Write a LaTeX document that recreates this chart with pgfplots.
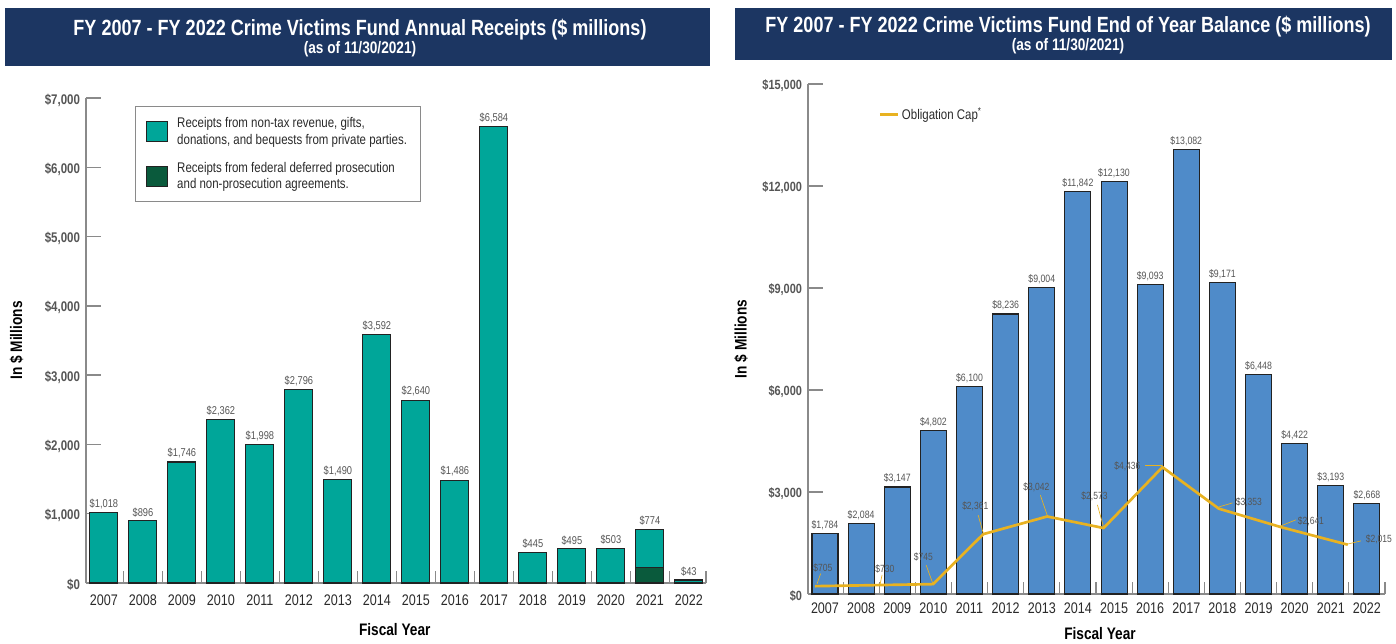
\documentclass[border=0pt]{standalone}
\usepackage{fontspec}
\setmainfont{Liberation Sans}[FakeStretch=0.82]
\usepackage{pgfplots}
\pgfplotsset{compat=1.18}
\definecolor{navy}{HTML}{1C3662}
\definecolor{tealbar}{HTML}{00A699}
\definecolor{darkgreenbar}{HTML}{0A5A3C}
\definecolor{bluebar}{HTML}{4F8BC9}
\definecolor{capyellow}{HTML}{E8B221}
\definecolor{bardark}{HTML}{222222}
\definecolor{axisgray}{HTML}{8A8A8A}
\definecolor{labelgray}{HTML}{555555}
\definecolor{tickgray}{HTML}{2A2A2A}
\pgfkeys{/pgf/number format/.cd, fixed, precision=0, 1000 sep={,}, assume math mode=true}
\pgfplotsset{
  common/.style={
    scale only axis,
    axis x line*=bottom, axis y line*=left,
    axis line style={-, draw=axisgray, line width=1pt},
    tick align=inside,
    major tick length=11pt,
    minor tick length=9pt,
    every major x tick/.style={draw=none},
    every minor x tick/.style={draw=axisgray, line width=0.8pt},
    every major y tick/.style={draw=axisgray, line width=1pt},
    scaled y ticks=false,
    xtick={0,...,15},
    xticklabels={2007,2008,2009,2010,2011,2012,2013,2014,2015,2016,2017,2018,2019,2020,2021,2022},
    minor xtick={0.5,1.5,...,14.5,15.44},
    yticklabel={\$\pgfmathprintnumber{\tick}},
    yticklabel style={font=\bfseries\fontsize{10.5}{12}\selectfont, text=labelgray, xshift=-1pt, yshift=-1.5pt},
    xticklabel style={font=\fontsize{11.5}{13}\selectfont, text=tickgray, yshift=-5pt},
    every axis y label/.style={rotate=90, anchor=center, font=\bfseries\fontsize{12.5}{14}\selectfont, text=black},
    every axis x label/.style={anchor=center, font=\bfseries\fontsize{12.5}{14}\selectfont, text=black},
    clip=false,
  }
}
\begin{document}
\begin{tikzpicture}
\path[use as bounding box] (0,0) rectangle (1047pt,482.25pt);
% banners
\fill[navy] (3.75pt,432.75pt) rectangle (532.5pt,476.25pt);
\node[white,font=\bfseries\fontsize{16.5}{18}\selectfont] at (270pt,460pt) {FY 2007 - FY 2022 Crime Victims Fund Annual Receipts (\$ millions)};
\node[white,font=\bfseries\fontsize{12.5}{14}\selectfont] at (270pt,445pt) {(as of 11/30/2021)};
\fill[navy] (551.25pt,437.25pt) rectangle (1044pt,476.25pt);
\node[white,font=\bfseries\fontsize{16.5}{18}\selectfont] at (801pt,462.25pt) {FY 2007 - FY 2022 Crime Victims Fund End of Year Balance (\$ millions)};
\node[white,font=\bfseries\fontsize{12.5}{14}\selectfont] at (801pt,447.5pt) {(as of 11/30/2021)};

% ---------------- left axis
\begin{axis}[common,
  at={(64.5pt,45pt)}, anchor=south west,
  width=465pt, height=363.75pt,
  xmin=-0.46, xmax=15.44, ymin=0, ymax=7000,
  ytick={0,1000,...,7000},
  ylabel={In \$ Millions}, xlabel={Fiscal Year},
  ylabel style={at={(axis description cs:-0.112,0.5)}},
  xlabel style={at={(axis description cs:0.498,0)}, yshift=-35pt},
  legend style={at={(rel axis cs:0.079,0.9835)}, anchor=north west,
    draw=axisgray, line width=0.8pt, fill=white,
    font=\fontsize{10.5}{12.5}\selectfont, text=tickgray,
    cells={anchor=west, align=left}, row sep=8pt, column sep=5pt,
    inner xsep=8pt, inner ysep=6pt},
]
\addplot[ybar, bar width=21pt, bar shift=0pt, fill=tealbar, draw=bardark, line width=0.8pt,
  nodes near coords={\$\pgfmathprintnumber{\pgfplotspointmeta}},
  every node near coord/.append style={font=\fontsize{8.5}{10}\selectfont, text=labelgray, yshift=-1pt},
  legend image code/.code={\draw[fill=tealbar, draw=bardark, line width=0.8pt] (0pt,-7.5pt) rectangle (15.5pt,7.5pt);}]
coordinates {(0,1018) (1,896) (2,1746) (3,2362) (4,1998) (5,2796) (6,1490) (7,3592)
 (8,2640) (9,1486) (10,6584) (11,445) (12,495) (13,503) (14,774) (15,43)};
\addlegendentry{Receipts from non-tax revenue, gifts,\\donations, and bequests from private parties.}
\addplot[ybar, bar width=21pt, bar shift=0pt, fill=darkgreenbar, draw=bardark, line width=0.8pt,
  legend image code/.code={\draw[fill=darkgreenbar, draw=bardark, line width=0.8pt] (0pt,-7.5pt) rectangle (15.5pt,7.5pt);}]
coordinates {(14,230)};
\addlegendentry{Receipts from federal deferred prosecution\\and non-prosecution agreements.}
\end{axis}

% ---------------- right axis
\begin{axis}[common,
  at={(606pt,36.75pt)}, anchor=south west,
  width=432.75pt, height=382.5pt,
  xmin=-0.47, xmax=15.5, ymin=0, ymax=15000,
  minor xtick={0.5,1.5,...,14.5,15.5},
  ytick={0,3000,...,15000},
  yticklabel style={font=\bfseries\fontsize{10}{12}\selectfont},
  xticklabel style={yshift=2pt},
  ylabel={In \$ Millions}, xlabel={Fiscal Year},
  ylabel style={at={(axis description cs:-0.116,0.5)}},
  xlabel style={at={(axis description cs:0.506,0)}, yshift=-30pt},
  legend style={at={(rel axis cs:0.115,0.94)}, anchor=west, draw=none, fill=none,
    font=\fontsize{10.5}{12}\selectfont, text=tickgray, cells={anchor=west}},
]
\addplot[ybar, bar width=19.5pt, bar shift=0pt, fill=bluebar, draw=bardark, line width=0.8pt, forget plot,
  nodes near coords={\$\pgfmathprintnumber{\pgfplotspointmeta}},
  every node near coord/.append style={font=\fontsize{8}{9}\selectfont, text=labelgray, yshift=-1pt}]
coordinates {(0,1784) (1,2084) (2,3147) (3,4802) (4,6100) (5,8236) (6,9004) (7,11842)
 (8,12130) (9,9093) (10,13082) (11,9171) (12,6448) (13,4422) (14,3193) (15,2668)};
\addplot[capyellow, line width=2pt, mark=none,
  legend image code/.code={\draw[capyellow, line width=2pt] (0pt,0pt) -- (13.5pt,0pt);}]
coordinates {(-0.28,230) (2.99,290) (4.38,1760) (6.15,2280) (7.71,1940) (9.34,3730)
 (10.9,2510) (12.61,1970) (14.47,1450)};
\addlegendentry{Obligation Cap\textsuperscript{*}}
% leaders
\draw[capyellow, line width=0.5pt] (axis cs:-0.22,300) -- (axis cs:-0.12,600);
\draw[capyellow, line width=0.5pt] (axis cs:1.52,265) -- (axis cs:1.58,560);
\draw[capyellow, line width=0.5pt] (axis cs:2.8,850) -- (axis cs:2.99,290);
\draw[capyellow, line width=0.5pt] (axis cs:4.24,2320) -- (axis cs:4.38,1790);
\draw[capyellow, line width=0.5pt] (axis cs:5.96,2910) -- (axis cs:6.15,2320);
\draw[capyellow, line width=0.5pt] (axis cs:7.54,2620) -- (axis cs:7.71,1970);
\draw[capyellow, line width=0.5pt] (axis cs:8.87,3790) -- (axis cs:9.34,3790);
\draw[capyellow, line width=0.5pt] (axis cs:10.9,2560) -- (axis cs:11.28,2680);
\draw[capyellow, line width=0.5pt] (axis cs:12.61,2000) -- (axis cs:13.03,2180);
\draw[capyellow, line width=0.5pt] (axis cs:14.47,1470) -- (axis cs:14.83,1560);
\begin{scope}[every node/.style={font=\fontsize{7.8}{9}\selectfont, text=labelgray}]
\node at (axis cs:-0.06,765) {\$705};
\node at (axis cs:1.66,735) {\$730};
\node at (axis cs:2.72,1090) {\$745};
\node at (axis cs:4.16,2590) {\$2,361};
\node at (axis cs:5.85,3150) {\$3,042};
\node at (axis cs:7.46,2880) {\$2,573};
\node at (axis cs:8.37,3760) {\$4,436};
\node at (axis cs:11.73,2700) {\$3,353};
\node at (axis cs:13.45,2150) {\$2,641};
\node at (axis cs:15.33,1620) {\$2,015};
\end{scope}
\end{axis}
\end{tikzpicture}
\end{document}
